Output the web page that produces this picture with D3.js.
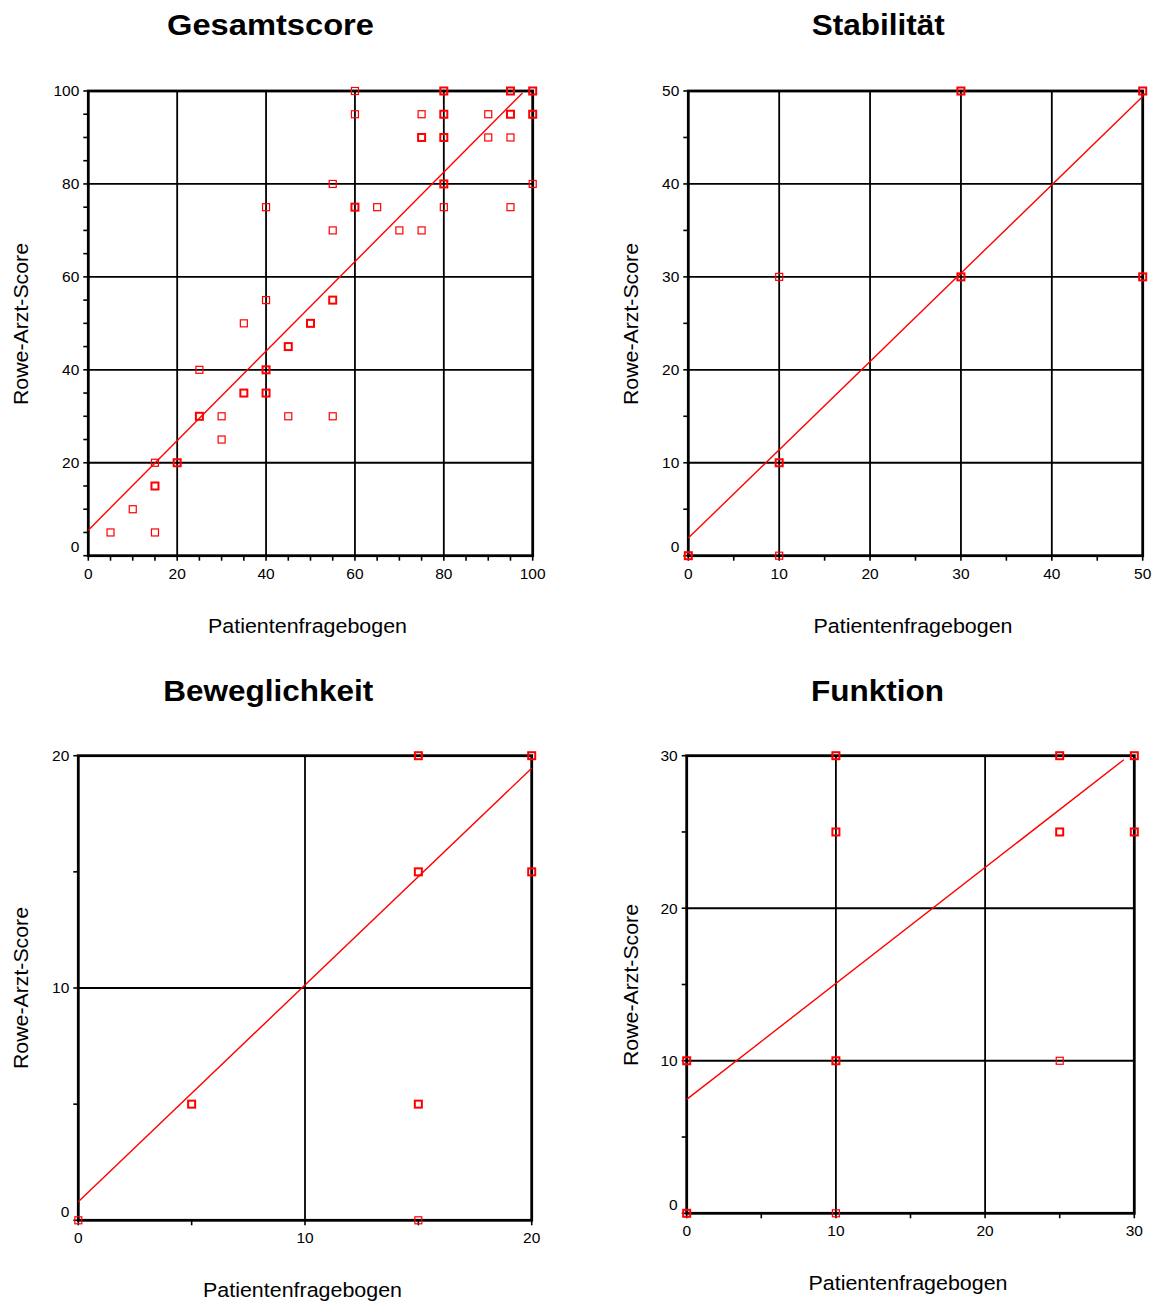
<!DOCTYPE html>
<html><head><meta charset="utf-8">
<script src="https://cdn.jsdelivr.net/npm/d3@7"></script>
<style>
body{margin:0;background:#fff}
svg{display:block}
text{font-family:"Liberation Sans",Arial,Helvetica,sans-serif;fill:#000}
</style>
</head><body>
<svg id="c" width="1159" height="1302"></svg>
<script>
// ---------- data ----------
const panelTitles = ["Gesamtscore", "Stabilität", "Beweglichkeit", "Funktion"];
const xAxisLabel = "Patientenfragebogen";
const yAxisLabel = "Rowe-Arzt-Score";
const axisMax = [100, 50, 20, 30];
const majorStep = [20, 10, 10, 10];
const minorStep = [5, 5, 5, 5];

// Gesamtscore points (x = Patientenfragebogen, y = Rowe-Arzt-Score, n = overlap count)
const gesamtX = [5,10,15,15,15,20,25,25,30,30,35,35,40,40,40,40,45,45,50,55,55,55,55,60,60,60,65,70,75,75,75,80,80,80,80,80,90,90,95,95,95,95,100,100,100];
const gesamtY = [5,10,5,15,20,20,40,30,30,25,50,35,75,55,40,35,45,30,50,80,70,55,30,100,95,75,75,70,95,90,70,100,95,90,80,75,95,90,100,95,90,75,100,95,80];
const gesamtN = [1,1,1,2,1,2,1,2,1,1,1,2,1,1,2,2,2,1,2,1,1,2,1,1,1,2,1,1,1,2,1,2,2,2,2,1,1,1,2,2,1,1,3,2,1];

const stabX = [0,10,10,10,30,30,50,50];
const stabY = [0,0,10,30,30,50,50,30];
const stabN = [2,1,2,1,2,2,3,2];

const bewegX = [0,5,15,15,15,15,20,20];
const bewegY = [0,5,0,5,15,20,20,15];
const bewegN = [1,2,1,2,2,2,3,2];

const funkX = [0,0,10,10,10,10,25,25,25,30,30];
const funkY = [0,10,0,10,25,30,30,25,10,30,25];
const funkN = [2,2,1,3,2,2,2,2,1,3,2];

// regression lines: intercept, slope, last x
const fitIntercept = [5.5, 1.9, 0.8, 7.47];
const fitSlope = [0.963, 0.95, 0.933, 0.76];
const fitXEnd = [97.7, 50, 20, 29.3];

// ---------- layout ----------
const layouts = [
  {x0: 88.3, x1: 532.7, y0: 555.7, y1: 91,  title: [270.5, 35], tw: 207, xl: [307.5, 633],  yl: [28, 324]},
  {x0: 688.3, x1: 1142.7, y0: 555.7, y1: 91, title: [878.3, 35], tw: 133, xl: [913, 633],  yl: [638, 324]},
  {x0: 78.3, x1: 531.7, y0: 1220.3, y1: 755.7, title: [268.3, 701], tw: 210, xl: [302.5, 1297], yl: [28, 988]},
  {x0: 686.7, x1: 1134.3, y0: 1213.3, y1: 755.7, title: [877.5, 701], tw: 133, xl: [908, 1290], yl: [638, 985]}
];
const pointSets = [
  [gesamtX, gesamtY, gesamtN],
  [stabX, stabY, stabN],
  [bewegX, bewegY, bewegN],
  [funkX, funkY, funkN]
];

const svg = d3.select("#c");

layouts.forEach((L, i) => {
  const max = axisMax[i];
  const x = d3.scaleLinear().domain([0, max]).range([L.x0, L.x1]);
  const y = d3.scaleLinear().domain([0, max]).range([L.y0, L.y1]);
  const g = svg.append("g");

  const majors = d3.range(0, max + 0.001, majorStep[i]);
  const minors = d3.range(0, max + 0.001, minorStep[i]);
  const inner = majors.filter(v => v > 0 && v < max);

  // grid lines
  g.selectAll(".gx").data(inner).join("line")
    .attr("x1", d => x(d)).attr("x2", d => x(d))
    .attr("y1", L.y0).attr("y2", L.y1)
    .attr("stroke", "#000").attr("stroke-width", 1.8);
  g.selectAll(".gy").data(inner).join("line")
    .attr("y1", d => y(d)).attr("y2", d => y(d))
    .attr("x1", L.x0).attr("x2", L.x1)
    .attr("stroke", "#000").attr("stroke-width", 1.8);

  // minor/major ticks outward
  g.selectAll(".tx").data(minors).join("line")
    .attr("x1", d => x(d)).attr("x2", d => x(d))
    .attr("y1", L.y0).attr("y2", L.y0 + 5)
    .attr("stroke", "#000").attr("stroke-width", 1.6);
  g.selectAll(".ty").data(minors).join("line")
    .attr("y1", d => y(d)).attr("y2", d => y(d))
    .attr("x1", L.x0).attr("x2", L.x0 - 5)
    .attr("stroke", "#000").attr("stroke-width", 1.6);

  // frame
  g.append("rect")
    .attr("x", L.x0).attr("y", L.y1)
    .attr("width", L.x1 - L.x0).attr("height", L.y0 - L.y1)
    .attr("fill", "none").attr("stroke", "#000").attr("stroke-width", 2.8);

  // tick labels
  g.selectAll(".lx").data(majors).join("text")
    .attr("x", d => x(d)).attr("y", L.y0 + 23)
    .attr("text-anchor", "middle").attr("font-size", 15.5)
    .text(d => d);
  g.selectAll(".ly").data(majors).join("text")
    .attr("x", L.x0 - 9).attr("y", d => y(d) + (d === 0 ? -9 : 0))
    .attr("dy", "0.35em")
    .attr("text-anchor", "end").attr("font-size", 15.5)
    .text(d => d);

  // regression line
  const b = fitIntercept[i], m = fitSlope[i];
  g.append("line")
    .attr("x1", x(0)).attr("y1", y(b))
    .attr("x2", x(fitXEnd[i])).attr("y2", y(b + m * fitXEnd[i]))
    .attr("stroke", "#ff0000").attr("stroke-width", 1.4);

  // points
  const [px, py, pn] = pointSets[i];
  const pts = px.map((v, k) => ({x: v, y: py[k], n: pn[k]}));
  g.selectAll(".pt").data(pts).join("rect")
    .attr("x", d => x(d.x) - 3.5).attr("y", d => y(d.y) - 3.5)
    .attr("width", 7).attr("height", 7)
    .attr("fill", "none").attr("stroke", "#ff0000")
    .attr("stroke-width", d => d.n > 1 ? 2 : 1.2);

  // titles and axis labels
  svg.append("text").attr("x", L.title[0]).attr("y", L.title[1])
    .attr("text-anchor", "middle").attr("font-size", 30).attr("font-weight", "bold")
    .attr("textLength", L.tw).attr("lengthAdjust", "spacingAndGlyphs")
    .text(panelTitles[i]);
  svg.append("text").attr("x", L.xl[0]).attr("y", L.xl[1])
    .attr("text-anchor", "middle").attr("font-size", 20.5)
    .attr("textLength", 199).attr("lengthAdjust", "spacingAndGlyphs")
    .text(xAxisLabel);
  svg.append("text")
    .attr("transform", `translate(${L.yl[0]},${L.yl[1]}) rotate(-90)`)
    .attr("text-anchor", "middle").attr("font-size", 20.5)
    .attr("textLength", 162).attr("lengthAdjust", "spacingAndGlyphs")
    .text(yAxisLabel);
});
</script>
</body></html>
